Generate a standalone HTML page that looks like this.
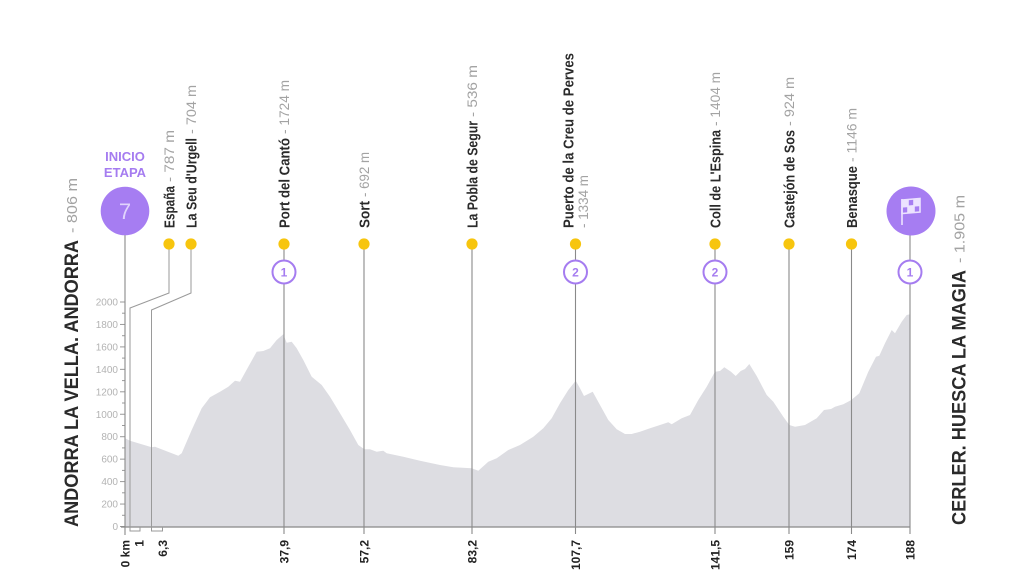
<!DOCTYPE html>
<html>
<head>
<meta charset="utf-8">
<style>
html,body{margin:0;padding:0;background:#fff;}
svg{display:block;}
</style>
</head>
<body>
<svg width="1024" height="576" viewBox="0 0 1024 576" xmlns="http://www.w3.org/2000/svg" font-family="'Liberation Sans', sans-serif">
<rect width="1024" height="576" fill="#fff"/>

<!-- profile -->
<polygon fill="#dddde2" points="125,527 125,438.3 130,440.7 151.7,447.3 155,446.7 178.3,455.7 181.7,453.3 191.7,430 201.7,408.3 210,397.3 220,391.7 228.3,386.7 235,380.7 240,381.7 248.3,366.7 256.7,351.7 263.3,351 270,348.3 276.7,340 283.3,334.3 286.7,342.7 291.7,341.7 296.7,348.3 303.3,360 311.7,376.7 321.7,385 330,396.7 340,413.3 350,430 358.3,445 364.3,449.3 370,449.3 376.7,451.7 383.3,450.7 386.7,453.3 403.3,456.7 420,460.7 440,465 453.3,467.3 471.7,468.3 478.3,470.7 488.3,461.7 496.7,458.3 508.3,450 520,445 533.3,436.7 543.3,428.3 551.7,418.3 560,403.3 568.3,390 575.7,380.7 580,388.3 584,396 592.7,391.7 600,405 608.3,420 616.7,429.3 625,434 631.7,434 640,431.7 650,428.3 660,425 668.3,422.3 671.7,424.3 681.7,418.3 690,415 698.3,400 706.7,386.7 715,371.7 720,371 724.3,367.3 731,371.7 735.7,376 740.7,371 745,369 749.3,364 756.7,376 766.7,395 773.3,401.7 783.3,416.7 789.3,425 795,426.7 805,425 816.7,418.3 824,410 831,409 835,406.7 843.3,404.3 851.3,400 859.3,393.3 868.3,371.7 876,356.7 879.3,355.7 885,343.3 891.7,330 895,333.3 901.7,321.7 906.7,315 910,314.3 910,527"/>

<!-- y-axis ticks & labels -->
<g stroke="#999" stroke-width="1">
<line x1="120" y1="526.5" x2="125" y2="526.5"/>
<line x1="122" y1="515.3" x2="125" y2="515.3"/>
<line x1="120" y1="504.05" x2="125" y2="504.05"/>
<line x1="122" y1="492.8" x2="125" y2="492.8"/>
<line x1="120" y1="481.6" x2="125" y2="481.6"/>
<line x1="122" y1="470.4" x2="125" y2="470.4"/>
<line x1="120" y1="459.15" x2="125" y2="459.15"/>
<line x1="122" y1="447.9" x2="125" y2="447.9"/>
<line x1="120" y1="436.7" x2="125" y2="436.7"/>
<line x1="122" y1="425.5" x2="125" y2="425.5"/>
<line x1="120" y1="414.25" x2="125" y2="414.25"/>
<line x1="122" y1="403" x2="125" y2="403"/>
<line x1="120" y1="391.8" x2="125" y2="391.8"/>
<line x1="122" y1="380.6" x2="125" y2="380.6"/>
<line x1="120" y1="369.35" x2="125" y2="369.35"/>
<line x1="122" y1="358.1" x2="125" y2="358.1"/>
<line x1="120" y1="346.9" x2="125" y2="346.9"/>
<line x1="122" y1="335.7" x2="125" y2="335.7"/>
<line x1="120" y1="324.45" x2="125" y2="324.45"/>
<line x1="122" y1="313.2" x2="125" y2="313.2"/>
<line x1="120" y1="302" x2="125" y2="302"/>
</g>
<g fill="#b3b3b3" font-size="10" text-anchor="end">
<text x="118" y="530">0</text>
<text x="118" y="507.6">200</text>
<text x="118" y="485.1">400</text>
<text x="118" y="462.7">600</text>
<text x="118" y="440.2">800</text>
<text x="118" y="417.8">1000</text>
<text x="118" y="395.3">1200</text>
<text x="118" y="372.9">1400</text>
<text x="118" y="350.4">1600</text>
<text x="118" y="328">1800</text>
<text x="118" y="305.5">2000</text>
</g>

<!-- baseline -->
<line x1="121" y1="527" x2="910" y2="527" stroke="#888" stroke-width="1.2"/>

<!-- España / La Seu connector lines -->
<g fill="none" stroke="#9a9a9a" stroke-width="1">
<polyline points="169,244 169,293 130,308 130,531 140,531 140,527"/>
<polyline points="191,244 191,293 151.5,310 151.5,531 162.5,531 162.5,527"/>
</g>

<!-- vertical landmark lines -->
<g stroke="#8a8a8a" stroke-width="1.1">
<line x1="125" y1="235" x2="125" y2="535"/>
<line x1="284" y1="244" x2="284" y2="534"/>
<line x1="364" y1="244" x2="364" y2="534"/>
<line x1="472" y1="244" x2="472" y2="534"/>
<line x1="575.5" y1="244" x2="575.5" y2="534"/>
<line x1="715" y1="244" x2="715" y2="534"/>
<line x1="789" y1="244" x2="789" y2="534"/>
<line x1="851.5" y1="244" x2="851.5" y2="534"/>
<line x1="910" y1="235" x2="910" y2="534"/>
</g>

<!-- yellow dots -->
<g fill="#f7c50e">
<circle cx="169" cy="244" r="5.6"/>
<circle cx="191" cy="244" r="5.6"/>
<circle cx="284" cy="244" r="5.6"/>
<circle cx="364" cy="244" r="5.6"/>
<circle cx="472" cy="244" r="5.6"/>
<circle cx="575.5" cy="244" r="5.6"/>
<circle cx="715" cy="244" r="5.6"/>
<circle cx="789" cy="244" r="5.6"/>
<circle cx="851.5" cy="244" r="5.6"/>
</g>

<!-- KOM circles -->
<g fill="#fff" stroke="#a57cf0" stroke-width="2">
<circle cx="284" cy="272" r="11.5"/>
<circle cx="575.5" cy="272" r="11.5"/>
<circle cx="715" cy="272" r="11.5"/>
<circle cx="910" cy="272" r="11.5"/>
</g>
<g fill="#a57cf0" font-size="12" font-weight="bold" text-anchor="middle">
<text x="284" y="276.5">1</text>
<text x="575.5" y="276.5">2</text>
<text x="715" y="276.5">2</text>
<text x="910" y="276.5">1</text>
</g>

<!-- start marker -->
<text x="125" y="161" text-anchor="middle" font-size="13" font-weight="bold" fill="#a57cf0">INICIO</text>
<text x="125" y="177" text-anchor="middle" font-size="13" font-weight="bold" fill="#a57cf0">ETAPA</text>
<circle cx="125" cy="211" r="24.3" fill="#a67df2"/>
<text x="125" y="219" text-anchor="middle" font-size="22" fill="#e0d3fc">7</text>

<!-- finish marker -->
<circle cx="911" cy="211" r="24.5" fill="#a67df2"/>
<g fill="none" stroke="#ece2ff" stroke-width="1.6">
<line x1="902" y1="199" x2="902" y2="225"/>
<path d="M902,200 L920,198.5 L920,212 L902,213.5 Z"/>
<line x1="908" y1="199.5" x2="908" y2="213"/>
<line x1="914" y1="199" x2="914" y2="212.5"/>
<line x1="902" y1="206.8" x2="920" y2="205.3"/>
</g>
<g fill="#ece2ff">
<rect x="902.5" y="199.5" width="5.5" height="7"/>
<rect x="914" y="199" width="6" height="6.5"/>
<rect x="908" y="206" width="6" height="7"/>
</g>

<!-- top labels (rotated) -->
<g font-size="14">
<text transform="translate(174.5,228) rotate(-90)" font-size="15" font-weight="bold" fill="#2a2a2a" textLength="42" lengthAdjust="spacingAndGlyphs">España</text>
<text transform="translate(174,182) rotate(-90)" fill="#a3a3a3" textLength="52" lengthAdjust="spacingAndGlyphs">- 787 m</text>
<text transform="translate(196.5,228) rotate(-90)" font-size="15" font-weight="bold" fill="#2a2a2a" textLength="90" lengthAdjust="spacingAndGlyphs">La Seu d'Urgell</text>
<text transform="translate(196,134) rotate(-90)" fill="#a3a3a3" textLength="49" lengthAdjust="spacingAndGlyphs">- 704 m</text>
<text transform="translate(289.5,228) rotate(-90)" font-size="15" font-weight="bold" fill="#2a2a2a" textLength="90" lengthAdjust="spacingAndGlyphs">Port del Cantó</text>
<text transform="translate(289,134) rotate(-90)" fill="#a3a3a3" textLength="54" lengthAdjust="spacingAndGlyphs">- 1724 m</text>
<text transform="translate(369.5,228) rotate(-90)" font-size="15" font-weight="bold" fill="#2a2a2a" textLength="27" lengthAdjust="spacingAndGlyphs">Sort</text>
<text transform="translate(369,197) rotate(-90)" fill="#a3a3a3" textLength="45" lengthAdjust="spacingAndGlyphs">- 692 m</text>
<text transform="translate(477.5,228) rotate(-90)" font-size="15" font-weight="bold" fill="#2a2a2a" textLength="107" lengthAdjust="spacingAndGlyphs">La Pobla de Segur</text>
<text transform="translate(477,117) rotate(-90)" fill="#a3a3a3" textLength="52" lengthAdjust="spacingAndGlyphs">- 536 m</text>
<text transform="translate(573.5,228) rotate(-90)" font-size="15" font-weight="bold" fill="#2a2a2a" textLength="175" lengthAdjust="spacingAndGlyphs">Puerto de la Creu de Perves</text>
<text transform="translate(588,228) rotate(-90)" fill="#a3a3a3" textLength="53" lengthAdjust="spacingAndGlyphs">- 1334 m</text>
<text transform="translate(720.5,228) rotate(-90)" font-size="15" font-weight="bold" fill="#2a2a2a" textLength="98" lengthAdjust="spacingAndGlyphs">Coll de L'Espina</text>
<text transform="translate(720,126) rotate(-90)" fill="#a3a3a3" textLength="54" lengthAdjust="spacingAndGlyphs">- 1404 m</text>
<text transform="translate(794.5,228) rotate(-90)" font-size="15" font-weight="bold" fill="#2a2a2a" textLength="98" lengthAdjust="spacingAndGlyphs">Castejón de Sos</text>
<text transform="translate(794,126) rotate(-90)" fill="#a3a3a3" textLength="49" lengthAdjust="spacingAndGlyphs">- 924 m</text>
<text transform="translate(857,228) rotate(-90)" font-size="15" font-weight="bold" fill="#2a2a2a" textLength="62" lengthAdjust="spacingAndGlyphs">Benasque</text>
<text transform="translate(856.5,162) rotate(-90)" fill="#a3a3a3" textLength="54" lengthAdjust="spacingAndGlyphs">- 1146 m</text>
</g>

<!-- x-axis labels -->
<g font-size="12" font-weight="bold" fill="#222" text-anchor="end">
<text transform="translate(129.3,540) rotate(-90)">0 km</text>
<text transform="translate(143.3,540) rotate(-90)">1</text>
<text transform="translate(166.8,540) rotate(-90)">6,3</text>
<text transform="translate(288.3,540) rotate(-90)">37,9</text>
<text transform="translate(368.3,540) rotate(-90)">57,2</text>
<text transform="translate(476.3,540) rotate(-90)">83,2</text>
<text transform="translate(579.8,540) rotate(-90)">107,7</text>
<text transform="translate(719.3,540) rotate(-90)">141,5</text>
<text transform="translate(793.3,540) rotate(-90)">159</text>
<text transform="translate(855.8,540) rotate(-90)">174</text>
<text transform="translate(914.3,540) rotate(-90)">188</text>
</g>

<!-- big side labels -->
<text transform="translate(78,527) rotate(-90)" font-size="19" font-weight="bold" fill="#2a2a2a" textLength="287" lengthAdjust="spacingAndGlyphs">ANDORRA LA VELLA. ANDORRA</text>
<text transform="translate(77,233) rotate(-90)" font-size="15" fill="#a3a3a3" textLength="55" lengthAdjust="spacingAndGlyphs">- 806 m</text>

<text transform="translate(965.5,525) rotate(-90)" font-size="19" font-weight="bold" fill="#2a2a2a" textLength="255" lengthAdjust="spacingAndGlyphs">CERLER. HUESCA LA MAGIA</text>
<text transform="translate(964.5,263) rotate(-90)" font-size="15" fill="#a3a3a3" textLength="68" lengthAdjust="spacingAndGlyphs">- 1.905 m</text>
</svg>
</body>
</html>
